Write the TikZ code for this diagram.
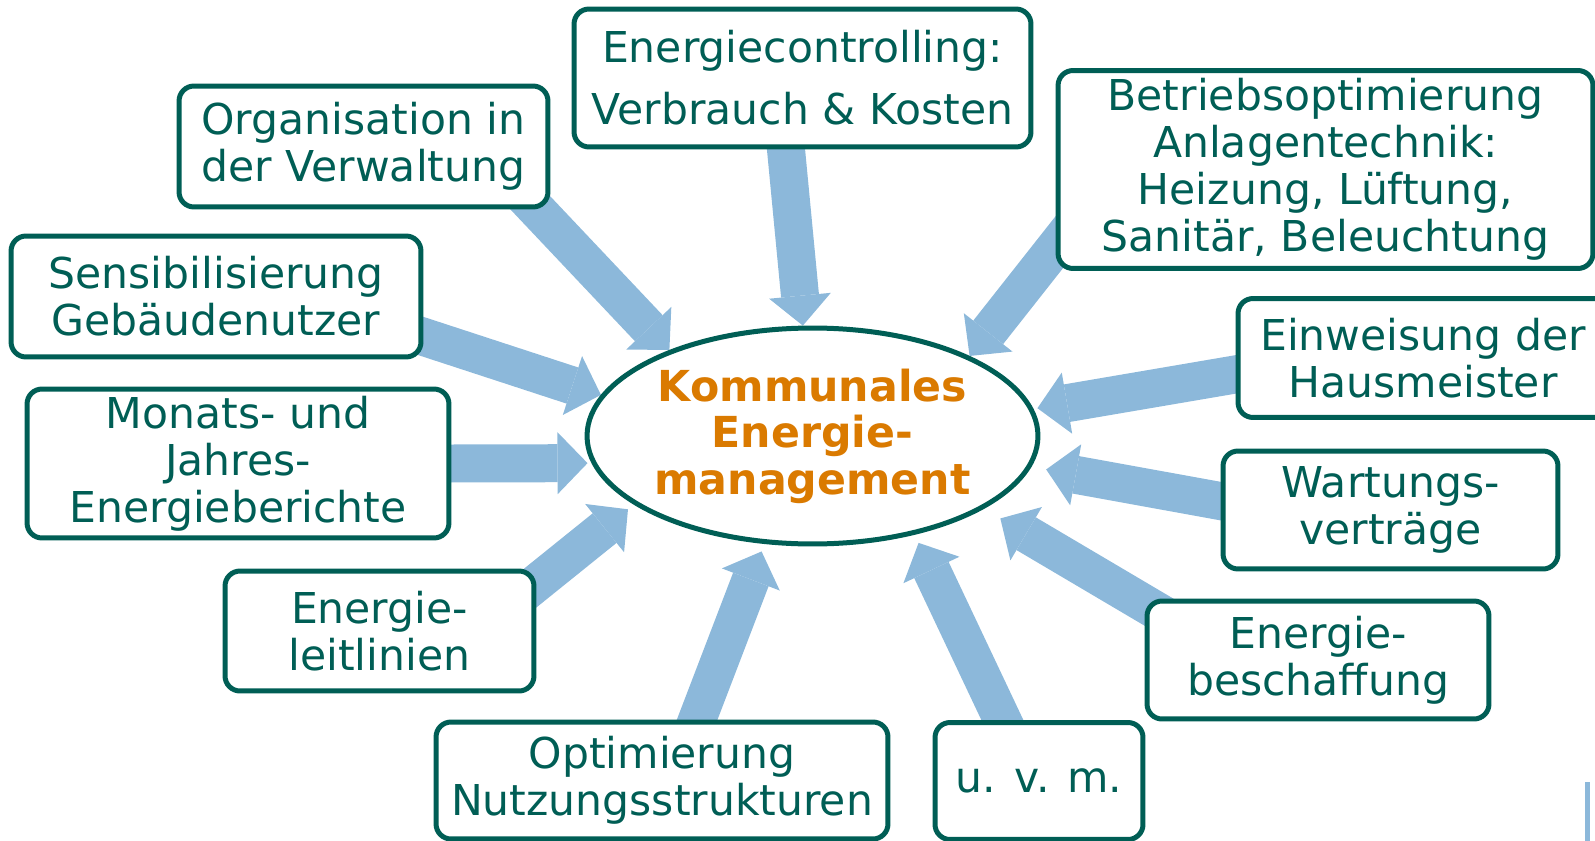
\documentclass[tikz,border=0pt]{standalone}
\usepackage{fontspec}
\setmainfont{DejaVu Sans}
\usepackage{tikz}
\usetikzlibrary{arrows.meta,shapes.geometric,backgrounds}
\definecolor{darkteal}{RGB}{0,94,85}
\definecolor{emorange}{RGB}{218,122,0}
\definecolor{arrowblue}{RGB}{140,184,218}

\begin{document}
\begin{tikzpicture}[x=0.02cm,y=-0.02cm,
    topic/.style={draw=darkteal, line width=0.1cm, rounded corners=0.3cm, fill=white,
        text=darkteal, align=center, font=\fontsize{24.2}{26.8}\selectfont},
    flow/.style={draw=arrowblue, line width=0.76cm, shorten <=-1cm,
        -{Triangle[length=0.6cm,width=1.24cm,line width=0pt]}}]
    \useasboundingbox (0,0) rectangle (1595,841);
    %Centre
    \node[ellipse, draw=darkteal, line width=0.1cm, fill=white, inner sep=0pt,
        minimum width=9.02cm, minimum height=4.32cm, text=emorange, align=center,
        font=\bfseries\fontsize{24.3}{26.5}\selectfont] (ems) at (812.5,436)
        {Kommunales\\Energie-\\management};
    %Boxes
    \node[topic, minimum width=9.14cm, minimum height=2.76cm] (ctrl) at (802.5,78)
        {Energiecontrolling:\\[8.5pt]Verbrauch \& Kosten};
    \node[topic, minimum width=10.7cm, minimum height=3.96cm] (betr) at (1325.5,169.5)
        {Betriebsoptimierung\\Anlagentechnik:\\Heizung, Lüftung,\\Sanitär, Beleuchtung};
    \node[topic, minimum width=7.38cm, minimum height=2.42cm] (org) at (363.5,146.5)
        {Organisation in\\der Verwaltung};
    \node[topic, minimum width=8.2cm, minimum height=2.42cm] (sens) at (216,296.5)
        {Sensibilisierung\\Gebäudenutzer};
    \node[topic, minimum width=8.44cm, minimum height=2.98cm] (mon) at (238,463.5)
        {Monats- und\\Jahres-\\Energieberichte};
    \node[topic, minimum width=6.18cm, minimum height=2.4cm] (leit) at (379.5,631)
        {Energie-\\leitlinien};
    \node[topic, minimum width=9.04cm, minimum height=2.34cm] (opt) at (662,780.5)
        {Optimierung\\Nutzungsstrukturen};
    \node[topic, minimum width=4.16cm, minimum height=2.34cm] (uvm) at (1039,781)
        {u. v. m.};
    \node[topic, minimum width=6.84cm, minimum height=2.36cm] (besch) at (1318,660)
        {Energie-\\beschaffung};
    \node[topic, minimum width=6.7cm, minimum height=2.36cm] (wart) at (1390.5,510)
        {Wartungs-\\verträge};
    \node[topic, minimum width=7.4cm, minimum height=2.38cm] (einw) at (1423,358)
        {Einweisung der\\Hausmeister};
    %Arrows
    \begin{pgfonlayer}{background}
        \draw[flow] (org.340) -- (ems.149);
        \draw[flow] (ctrl.257) -- (ems.95);
        \draw[flow] (betr.196) -- (ems.27);
        \draw[flow] (sens.349) -- (ems.169);
        \draw[flow, shorten >=0.08cm] (mon.east) -- (ems.187);
        \draw[flow, shorten >=0.15cm] (leit.17) -- (ems.201);
        \draw[flow, shorten >=0.16cm] (opt.60) -- (ems.246);
        \draw[flow, shorten >=0.18cm] (uvm.121) -- (ems.316);
        \draw[flow, shorten >=0.38cm] (besch.162) -- (ems.337);
        \draw[flow, shorten >=0.3cm] (wart.177) -- (ems.352);
        \draw[flow, shorten >=0.08cm] (einw.185) -- (ems.7);
    \end{pgfonlayer}
    %Edge
    \fill[arrowblue] (1585,782) rectangle (1590,841);
\end{tikzpicture}
\end{document}
